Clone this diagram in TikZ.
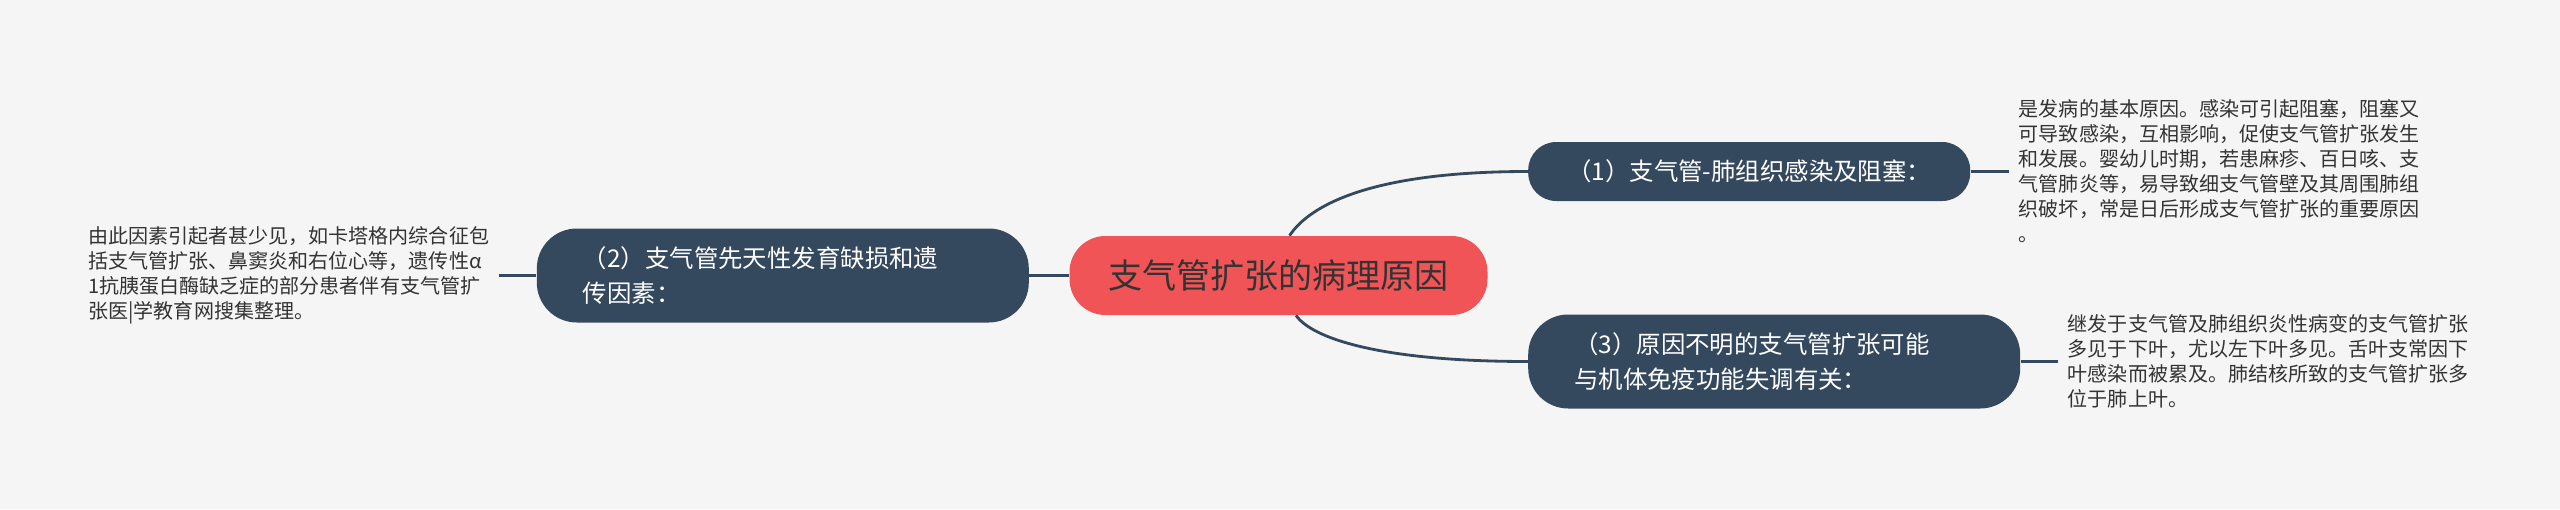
\documentclass[tikz,border=0pt]{standalone}
\usepackage{fontspec}
\setmainfont{Noto Sans CJK SC}
\usetikzlibrary{positioning}

\definecolor{bgGray}{HTML}{F5F5F5}
\definecolor{nodeBlue}{HTML}{34495E}
\definecolor{rootRed}{HTML}{F05456}
\definecolor{noteText}{HTML}{333333}

\begin{document}
\begin{tikzpicture}

      \tikzstyle{bubble}=[rectangle,fill=nodeBlue,text=white,
        inner xsep=0.92cm,inner ysep=0.1cm,
        font=\fontsize{13.9}{19.4}\selectfont]
      \tikzstyle{root}=[rectangle,rounded corners=0.72cm,
        minimum width=8.36cm,minimum height=1.58cm,
        text centered,fill=rootRed,text=noteText,
        font=\fontsize{19.4}{24}\selectfont]
      \tikzstyle{branch}=[bubble,rounded corners=0.8cm,
        minimum height=1.88cm,text width=8cm,align=left]
      \tikzstyle{branchone}=[bubble,rounded corners=0.56cm,
        inner xsep=0.7cm,minimum width=8.84cm,
        minimum height=1.18cm,align=center]
      \tikzstyle{note}=[inner xsep=0.2cm,inner ysep=0.1cm,
        align=left,text=noteText,
        font=\fontsize{11.4}{14.2}\selectfont]
      \tikzstyle{link}=[line width=1.6pt,nodeBlue]

      \useasboundingbox (0,0) rectangle (51.2,10.18);
      \fill[bgGray] (0,0) rectangle (51.2,10.18);

      \node(ROOT)[root] at (25.57,4.67){支气管扩张的病理原因};

      \node(BRANCH1)[branchone,right=0.8cm of ROOT,
        yshift=2.08cm]{（1）支气管-肺组织感染及阻塞：};
      \node(BRANCH2)[branch,left=0.8cm of ROOT]
        {（2）支气管先天性发育缺损和遗\\传因素：};
      \node(BRANCH3)[branch,right=0.8cm of ROOT,
        yshift=-1.72cm]{（3）原因不明的支气管扩张可能\\与机体免疫功能失调有关：};

      \node(NOTE1)[note,right=0.76cm of BRANCH1]
        {是发病的基本原因。感染可引起阻塞，阻塞又\\
         可导致感染，互相影响，促使支气管扩张发生\\
         和发展。婴幼儿时期，若患麻疹、百日咳、支\\
         气管肺炎等，易导致细支气管壁及其周围肺组\\
         织破坏，常是日后形成支气管扩张的重要原因\\
         。};
      \node(NOTE2)[note,left=0.74cm of BRANCH2]
        {由此因素引起者甚少见，如卡塔格内综合征包\\
         括支气管扩张、鼻窦炎和右位心等，遗传性α\\
         1抗胰蛋白酶缺乏症的部分患者伴有支气管扩\\
         张医|学教育网搜集整理。};
      \node(NOTE3)[note,right=0.74cm of BRANCH3]
        {继发于支气管及肺组织炎性病变的支气管扩张\\
         多见于下叶，尤以左下叶多见。舌叶支常因下\\
         叶感染而被累及。肺结核所致的支气管扩张多\\
         位于肺上叶。};

      \draw [link]
      ([xshift=0.22cm]ROOT.north) .. controls +(0.4,0.6) and +(-3.16,0)
      .. (BRANCH1.west);
      \draw [link]
      ([xshift=0.35cm]ROOT.south) .. controls +(0.3,-0.44) and +(-3.02,0)
      .. (BRANCH3.west);
      \draw [link]
      (ROOT)--(BRANCH2);

      \draw [link]
      (BRANCH1)--(NOTE1);
      \draw [link]
      (BRANCH2)--(NOTE2);
      \draw [link]
      (BRANCH3)--(NOTE3);

    \end{tikzpicture}
\end{document}
